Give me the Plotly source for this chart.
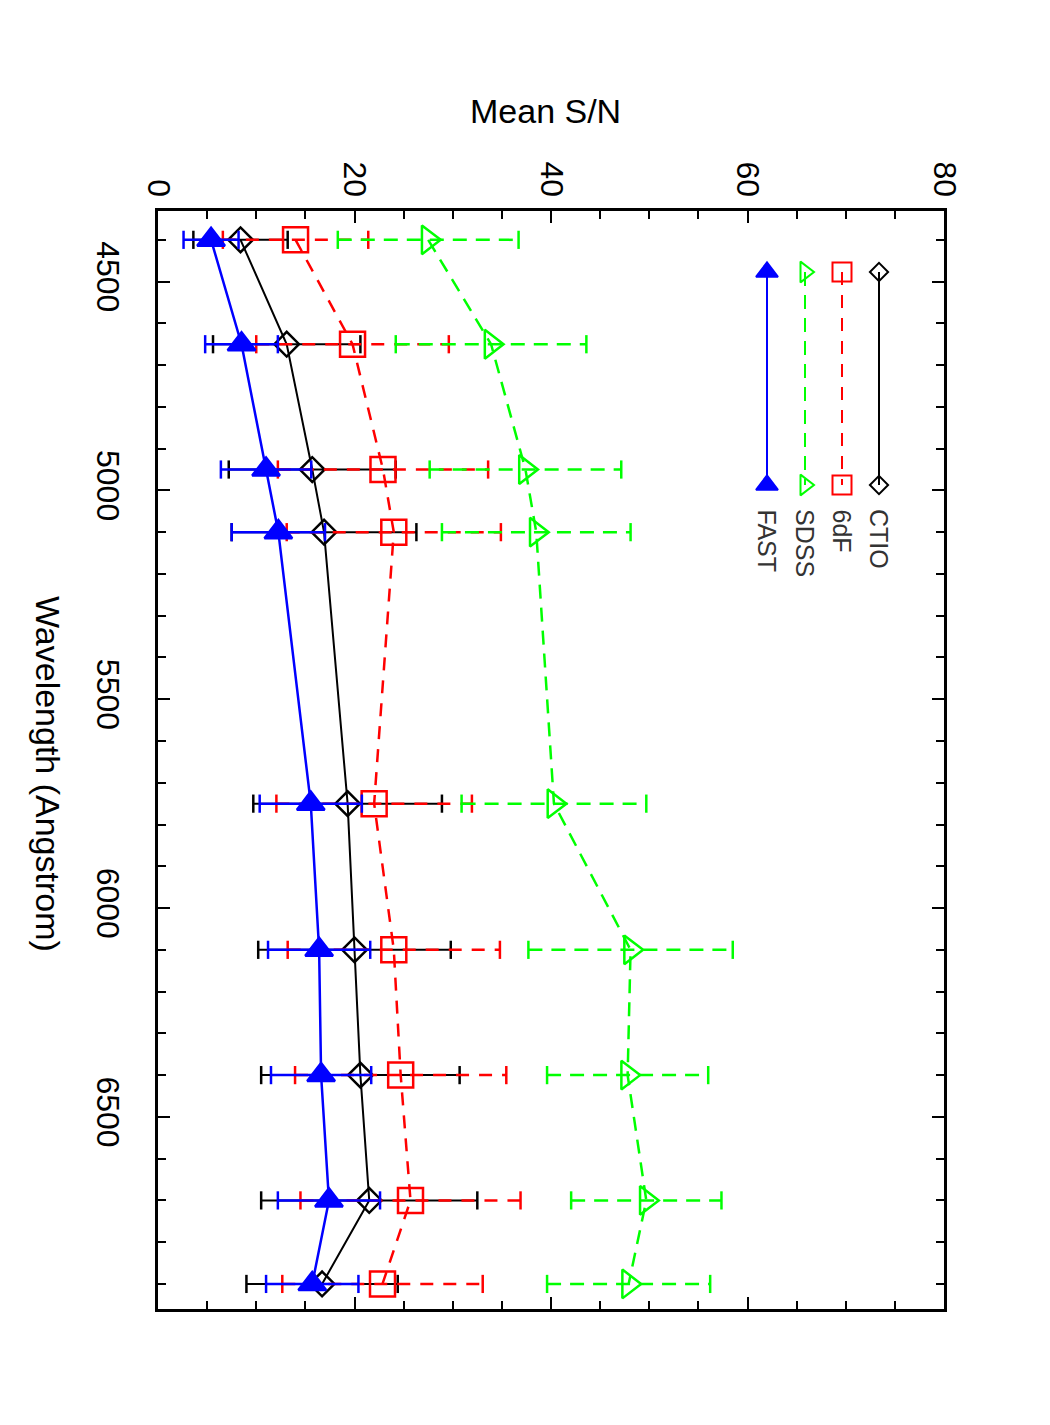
import plotly.graph_objects as go

# ---------------- data ----------------
wavelength = [4400, 4650, 4950, 5100, 5750, 6100, 6400, 6700, 6900]

ctio = [8.4, 13.1, 15.7, 16.9, 19.3, 20.0, 20.6, 21.5, 16.7]
ctio_err = [4.8, 7.5, 8.5, 9.4, 9.6, 9.8, 10.1, 11.0, 7.7]

sixdf = [14.0, 19.8, 22.9, 24.0, 22.0, 24.0, 24.7, 25.7, 22.85]
sixdf_err = [7.4, 9.8, 10.7, 10.9, 9.95, 10.8, 10.75, 11.2, 10.2]

sdss = [27.5, 33.9, 37.4, 38.5, 40.3, 48.1, 47.8, 49.7, 47.9]
sdss_err = [9.2, 9.7, 9.75, 9.6, 9.4, 10.4, 8.2, 7.65, 8.3]

fast = [5.4, 8.5, 11.0, 12.25, 15.55, 16.4, 16.6, 17.4, 15.7]
fast_err = [2.8, 3.7, 4.6, 4.75, 5.2, 5.2, 5.1, 5.2, 4.7]

sn_ticks = [0, 20, 40, 60, 80]
wl_ticks = [4500, 5000, 5500, 6000, 6500]

FONT = "Liberation Sans, Arial, Helvetica, sans-serif"

series = [
    dict(name="CTIO", vals=ctio, errs=ctio_err, color="#000000", dash="solid",
         symbol="diamond-open", size=19, lw=2, msize_leg=14),
    dict(name="6dF", vals=sixdf, errs=sixdf_err, color="#ff0000", dash="13px,10px",
         symbol="square-open", size=25, lw=2.5, msize_leg=19),
    dict(name="SDSS", vals=sdss, errs=sdss_err, color="#00ff00", dash="14px,9px",
         symbol="triangle-right-open", size=25, lw=2.5, msize_leg=18),
    dict(name="FAST", vals=fast, errs=fast_err, color="#0000ff", dash="solid",
         symbol="triangle-up", size=24, lw=2.5, msize_leg=19),
]

fig = go.Figure()

for s in series:
    ex, ey, cx, cy = [], [], [], []
    for v, e, w in zip(s["vals"], s["errs"], wavelength):
        ex += [v - e, v + e, None]
        ey += [w, w, None]
        cx += [v - e, v + e]
        cy += [w, w]
    fig.add_trace(go.Scatter(x=ex, y=ey, mode="lines", showlegend=False,
                             line=dict(color=s["color"], width=s["lw"], dash=s["dash"]),
                             hoverinfo="skip"))
    fig.add_trace(go.Scatter(x=cx, y=cy, mode="markers", showlegend=False,
                             marker=dict(symbol="line-ns", size=13,
                                         line=dict(color=s["color"], width=2.5)),
                             hoverinfo="skip"))
    fig.add_trace(go.Scatter(x=s["vals"], y=wavelength, mode="lines+markers",
                             name=s["name"], showlegend=False,
                             line=dict(color=s["color"], width=s["lw"], dash=s["dash"]),
                             marker=dict(symbol=s["symbol"], size=s["size"], color=s["color"],
                                         line=dict(color=s["color"], width=2.5))))

# ---------------- manual legend (pixel-space overlay axes) ----------------
LEG_X = {"CTIO": 879, "6dF": 842, "SDSS": 805, "FAST": 767}
LEG_Y_TOP, LEG_Y_BOT, LEG_LABEL_Y = 272, 485, 507
for s in series:
    lx = LEG_X[s["name"]]
    fig.add_trace(go.Scatter(x=[lx, lx], y=[LEG_Y_TOP, LEG_Y_BOT], xaxis="x2", yaxis="y2",
                             mode="lines+markers", showlegend=False, hoverinfo="skip",
                             line=dict(color=s["color"], width=2, dash=s["dash"]),
                             marker=dict(symbol=s["symbol"], size=s["msize_leg"], color=s["color"],
                                         line=dict(color=s["color"], width=2))))
    fig.add_annotation(x=lx, y=LEG_LABEL_Y, xref="x2", yref="y2", text=s["name"],
                       textangle=90, showarrow=False, xanchor="center", yanchor="top",
                       font=dict(family=FONT, size=25, color="#333333"))

axis_common = dict(
    ticks="inside", ticklen=12, tickwidth=2, tickcolor="black",
    showline=True, linewidth=2.5, linecolor="black", mirror="allticks",
    showgrid=False, zeroline=False, tickangle=90,
    tickfont=dict(family=FONT, size=32, color="black"),
)

fig.update_layout(
    width=1050, height=1425,
    margin=dict(l=158, r=106, t=211, b=116),
    paper_bgcolor="white", plot_bgcolor="white",
    showlegend=False,
    xaxis=dict(range=[0, 80], side="top", tickvals=sn_ticks,
               minor=dict(ticks="inside", ticklen=8, tickwidth=2, dtick=5, tick0=0,
                          tickcolor="black"),
               **axis_common),
    yaxis=dict(range=[6960, 4331], tickvals=wl_ticks, ticklabelstandoff=20,
               minor=dict(ticks="inside", ticklen=8, tickwidth=2, dtick=100, tick0=4500,
                          tickcolor="black"),
               **axis_common),
    xaxis2=dict(overlaying="x", range=[158, 944], visible=False),
    yaxis2=dict(overlaying="y", range=[1309, 211], visible=False),
)

fig.add_annotation(x=0.4936, y=1.0913, xref="paper", yref="paper", text="Mean S/N",
                   showarrow=False, xanchor="center", yanchor="middle",
                   font=dict(family=FONT, size=34, color="black"))
fig.add_annotation(x=-0.1400, y=0.4873, xref="paper", yref="paper",
                   text="Wavelength (Angstrom)", textangle=90,
                   showarrow=False, xanchor="center", yanchor="middle",
                   font=dict(family=FONT, size=34, color="black"))

fig.write_html("out.html")
